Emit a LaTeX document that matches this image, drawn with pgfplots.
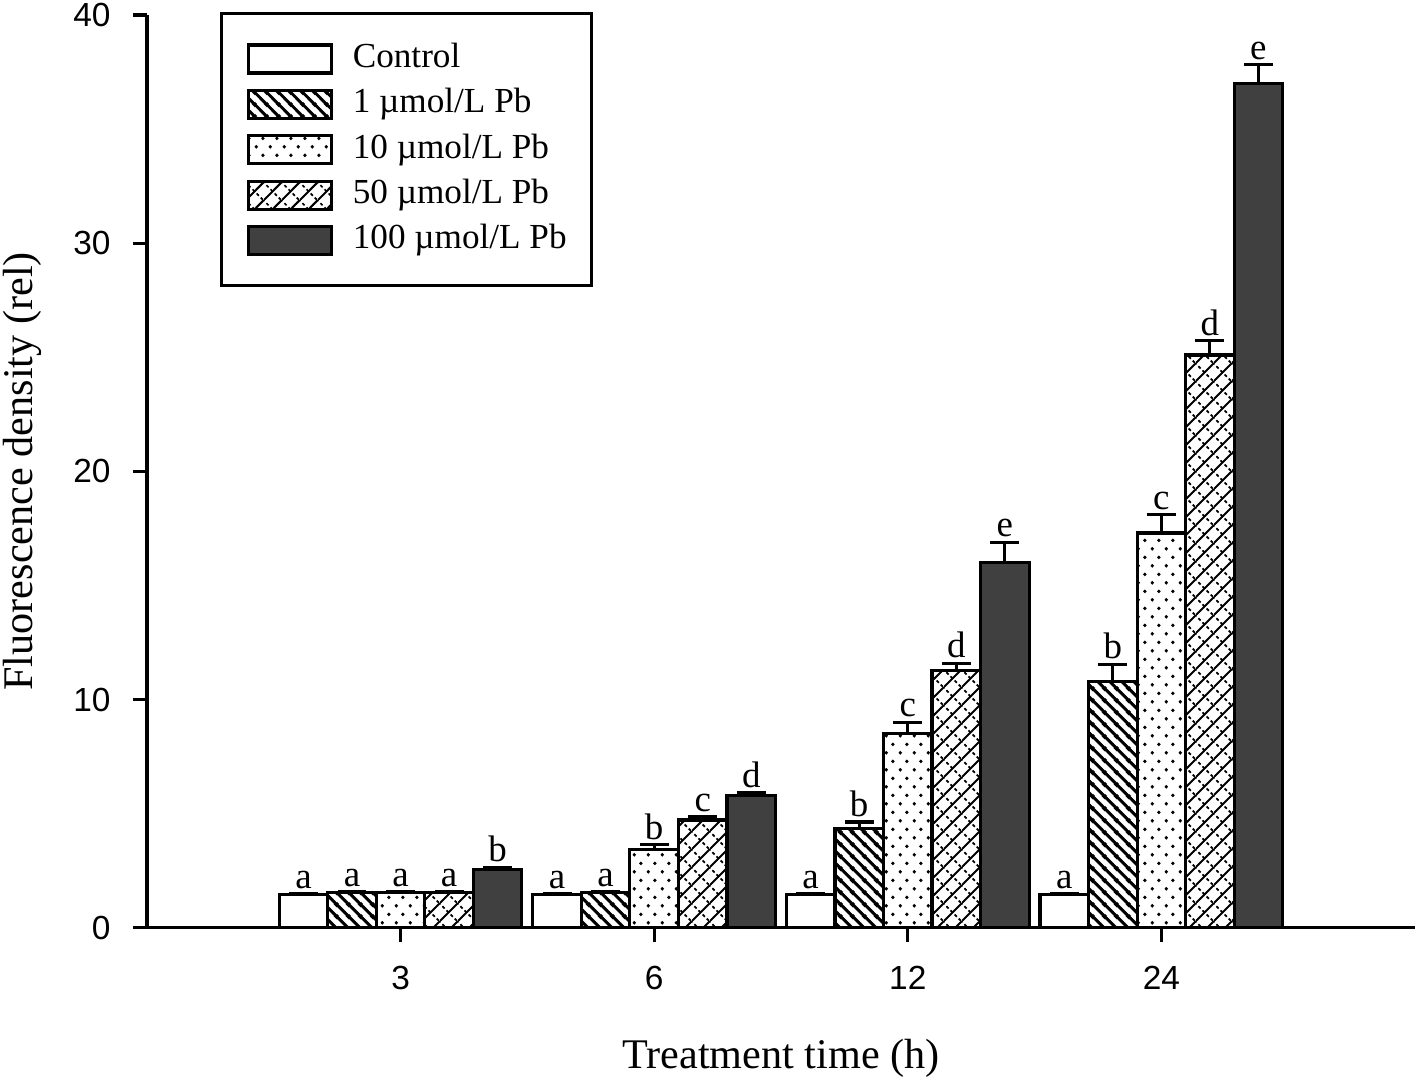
\documentclass[border=0pt]{standalone}
\usepackage{fontspec}
\setmainfont{Liberation Serif}
\setsansfont{Liberation Sans}
\usepackage{pgfplots}
\pgfplotsset{compat=1.18}
\usepackage{pgfplotstable}
\usetikzlibrary{patterns.meta}

\tikzdeclarepattern{
  name=nwl, type=uncolored,
  bottom left={(0pt,0pt)}, top right={(3.3pt,3.3pt)}, tile size={(3.3pt,3.3pt)},
  code={
    \draw[line width=0.85pt] (-0.5pt,3.8pt) -- (3.8pt,-0.5pt);
    \draw[line width=0.85pt] (-0.5pt,0.5pt) -- (0.5pt,-0.5pt);
    \draw[line width=0.85pt] (2.8pt,3.8pt) -- (3.8pt,2.8pt);
  }
}
\tikzdeclarepattern{
  name=mydots, type=uncolored,
  bottom left={(0pt,0pt)}, top right={(4pt,4.8pt)}, tile size={(4pt,4.8pt)},
  code={
    \fill (1pt,1.2pt) circle (0.55pt);
    \fill (3pt,3.6pt) circle (0.55pt);
  }
}
\tikzdeclarepattern{
  name=zz, type=uncolored,
  bottom left={(0pt,0pt)}, top right={(5pt,5pt)}, tile size={(5pt,5pt)},
  code={
    \draw[line width=0.6pt] (-0.5pt,-0.5pt) -- (5.5pt,5.5pt);
    \draw[line width=0.5pt, dash pattern=on 0.9pt off 0.8pt] (-0.5pt,5.5pt) -- (5.5pt,-0.5pt);
  }
}

\pgfplotstableread{
x y err lab
0 1.45 0.05 a
1 1.45 0.05 a
2 1.45 0.05 a
3 1.45 0.05 a
}\ctrl
\pgfplotstableread{
x y err lab
0 1.55 0.03 a
1 1.55 0.03 a
2 4.35 0.28 b
3 10.8 0.75 b
}\one
\pgfplotstableread{
x y err lab
0 1.55 0.03 a
1 3.42 0.22 b
2 8.5 0.5 c
3 17.3 0.8 c
}\ten
\pgfplotstableread{
x y err lab
0 1.55 0.03 a
1 4.72 0.13 c
2 11.27 0.32 d
3 25.1 0.62 d
}\fifty
\pgfplotstableread{
x y err lab
0 2.55 0.1 b
1 5.8 0.12 d
2 16.02 0.88 e
3 37.0 0.83 e
}\hund

\pgfplotsset{
  mybar/.style={
    /tikz/draw=black, /tikz/line width=0.9pt,
    /pgfplots/nodes near coords,
    /pgfplots/point meta=explicit symbolic,
    /pgfplots/visualization depends on={\thisrow{err} \as \erv},
    /pgfplots/every node near coord/.append style={font=\fontsize{10.5}{12}\selectfont, text=black, inner sep=1pt, anchor=south, yshift=\erv*0.228cm},
    /pgfplots/error bars/y dir=plus,
    /pgfplots/error bars/y explicit,
    /pgfplots/error bars/error bar style={line width=0.9pt, solid, black},
    /pgfplots/error bars/error mark options={rotate=90, mark size=4.1pt, line width=0.9pt, black},
  }
}

\begin{document}
\begin{tikzpicture}
\begin{axis}[
  x=2.534cm, y=0.228cm,
  xmin=-1, xmax=4, ymin=0, ymax=40,
  axis x line*=bottom, axis y line*=left,
  axis line style={line width=0.9pt},
  ybar=0pt, bar width=0.485cm,
  xtick={0,1,2,3}, xticklabels={3,6,12,24},
  ytick={0,10,20,30,40},
  tick align=outside, major tick length=0.14cm,
  tick style={line width=0.9pt, black},
  tick label style={font=\fontsize{9.5}{10}\sffamily},
  xticklabel style={yshift=-0.12cm},
  yticklabel style={xshift=-0.1cm},
  /pgf/number format/assume math mode=true,
  xlabel={Treatment time (h)}, ylabel={Fluorescence density (rel)},
  label style={font=\fontsize{12}{14}\selectfont},
  xlabel style={at={(axis description cs:0.5,0)}, anchor=base, yshift=-1.41cm},
  ylabel style={at={(axis description cs:-0.0985,0.5)}, anchor=center},
  legend image code/.code={\draw[#1, /tikz/line width=0.9pt] (0cm,-0.14cm) rectangle (0.83cm,0.14cm);},
  legend cell align=left,
  legend style={at={(axis description cs:0.0576,1.003)}, anchor=north west, draw=black, line width=0.9pt,
    font=\fontsize{10}{12}\selectfont, inner xsep=0.25cm, inner ysep=0.29cm, row sep=0.13cm, column sep=0.2cm,
    nodes={inner sep=0pt, text height=7pt, text depth=2.2pt}},
]
\addplot[mybar, fill=white] table[x=x, y=y, y error=err, meta=lab]{\ctrl};
\addplot[mybar, pattern=nwl] table[x=x, y=y, y error=err, meta=lab]{\one};
\addplot[mybar, pattern=mydots] table[x=x, y=y, y error=err, meta=lab]{\ten};
\addplot[mybar, pattern=zz] table[x=x, y=y, y error=err, meta=lab]{\fifty};
\addplot[mybar, fill=black!75] table[x=x, y=y, y error=err, meta=lab]{\hund};
\legend{Control, 1 µmol/L Pb, 10 µmol/L Pb, 50 µmol/L Pb, 100 µmol/L Pb}
\coordinate (bbsw) at (axis description cs:-0.1159,-0.16557);
\coordinate (bbne) at (axis description cs:1.0024,1.01645);
\end{axis}
\pgfresetboundingbox
\path[use as bounding box] (bbsw) rectangle (bbne);
\end{tikzpicture}
\end{document}
